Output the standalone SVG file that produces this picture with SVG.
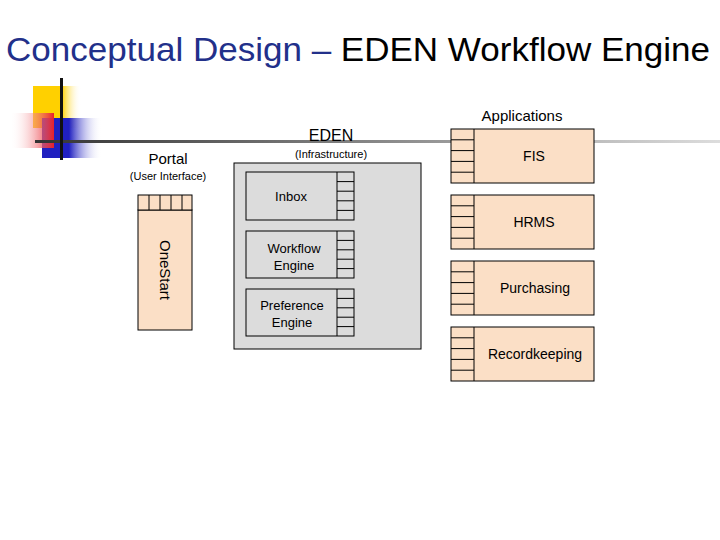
<svg xmlns="http://www.w3.org/2000/svg" width="720" height="540" viewBox="0 0 720 540">
<defs>
<linearGradient id="gy" x1="0" x2="1"><stop offset="0" stop-color="#ffd000"/><stop offset="0.6" stop-color="#ffd000"/><stop offset="1" stop-color="#fff" stop-opacity="0"/></linearGradient>
<linearGradient id="gr" x1="1" x2="0"><stop offset="0" stop-color="#e8202a"/><stop offset="1" stop-color="#fff" stop-opacity="0"/></linearGradient>
<linearGradient id="gb" x1="0" x2="1"><stop offset="0" stop-color="#2020c0"/><stop offset="0.45" stop-color="#2020c0"/><stop offset="1" stop-color="#fff" stop-opacity="0"/></linearGradient>
<linearGradient id="gl" x1="0" x2="1"><stop offset="0" stop-color="#333"/><stop offset="0.6" stop-color="#999"/><stop offset="1" stop-color="#ddd"/></linearGradient>
</defs>
<style>
text{font-family:"Liberation Sans",Arial,sans-serif;fill:#000}
.pe{fill:#fbdfc6;stroke:#000;stroke-width:1}
.gr{fill:#dcdcdc;stroke:#000;stroke-width:1}
.tl{stroke:#000;stroke-width:1;fill:none}
</style>
<rect x="33" y="86" width="48" height="42" fill="url(#gy)"/>
<rect x="42" y="118" width="60" height="40" fill="url(#gb)"/>
<rect x="10" y="113" width="44" height="35" fill="url(#gr)"/>
<rect x="35" y="140" width="685" height="3" fill="url(#gl)"/>
<rect x="60" y="78" width="3" height="82" fill="#111"/>
<text x="6" y="61" font-size="33" textLength="704" lengthAdjust="spacingAndGlyphs" style="fill:#22308a">Conceptual Design – <tspan style="fill:#000">EDEN Workflow Engine</tspan></text>

<g id="portal">
<text x="168" y="164" font-size="15" text-anchor="middle">Portal</text>
<text x="168" y="180" font-size="11" text-anchor="middle">(User Interface)</text>
<rect class="pe" x="138" y="210" width="54" height="120"/>
<rect class="pe" x="138" y="195" width="54" height="15"/>
<path class="tl" d="M149 195V210M160 195V210M171 195V210M182 195V210"/>
<text font-size="15" transform="translate(160,270) rotate(90)" text-anchor="middle">OneStart</text>
</g>

<g id="eden">
<text x="331" y="141" font-size="16" text-anchor="middle">EDEN</text>
<text x="331" y="158" font-size="11" text-anchor="middle">(Infrastructure)</text>
<rect class="gr" x="234" y="163" width="187" height="186"/>
</g>
<g id="inbox">
<rect class="gr" x="246" y="172" width="108" height="48"/>
<path class="tl" d="M337 172V220M337 181.6H354M337 191.2H354M337 200.8H354M337 210.4H354"/>
<text x="291" y="201" font-size="13" text-anchor="middle">Inbox</text>
</g>
<g id="workflow">
<rect class="gr" x="246" y="231" width="108" height="47"/>
<path class="tl" d="M337 231V278M337 240.4H354M337 249.8H354M337 259.2H354M337 268.6H354"/>
<text x="294" y="253" font-size="13" text-anchor="middle">Workflow</text>
<text x="294" y="270" font-size="13" text-anchor="middle">Engine</text>
</g>
<g id="preference">
<rect class="gr" x="246" y="289" width="108" height="47"/>
<path class="tl" d="M337 289V336M337 298.4H354M337 307.8H354M337 317.2H354M337 326.6H354"/>
<text x="292" y="310" font-size="13" text-anchor="middle">Preference</text>
<text x="292" y="327" font-size="13" text-anchor="middle">Engine</text>
</g>

<text x="522" y="121" font-size="15" text-anchor="middle">Applications</text>
<g id="fis">
<rect class="pe" x="451" y="129" width="143" height="54"/>
<path class="tl" d="M474 129V183M451 139.8H474M451 150.6H474M451 161.4H474M451 172.2H474"/>
<text x="534" y="161" font-size="14" text-anchor="middle">FIS</text>
</g>
<g id="hrms">
<rect class="pe" x="451" y="195" width="143" height="54"/>
<path class="tl" d="M474 195V249M451 205.8H474M451 216.6H474M451 227.4H474M451 238.2H474"/>
<text x="534" y="227" font-size="14" text-anchor="middle">HRMS</text>
</g>
<g id="purchasing">
<rect class="pe" x="451" y="261" width="143" height="54"/>
<path class="tl" d="M474 261V315M451 271.8H474M451 282.6H474M451 293.4H474M451 304.2H474"/>
<text x="535" y="293" font-size="14" text-anchor="middle">Purchasing</text>
</g>
<g id="recordkeeping">
<rect class="pe" x="451" y="327" width="143" height="54"/>
<path class="tl" d="M474 327V381M451 337.8H474M451 348.6H474M451 359.4H474M451 370.2H474"/>
<text x="535" y="359" font-size="14" text-anchor="middle">Recordkeeping</text>
</g>
<g id="connectors"></g>
</svg>
